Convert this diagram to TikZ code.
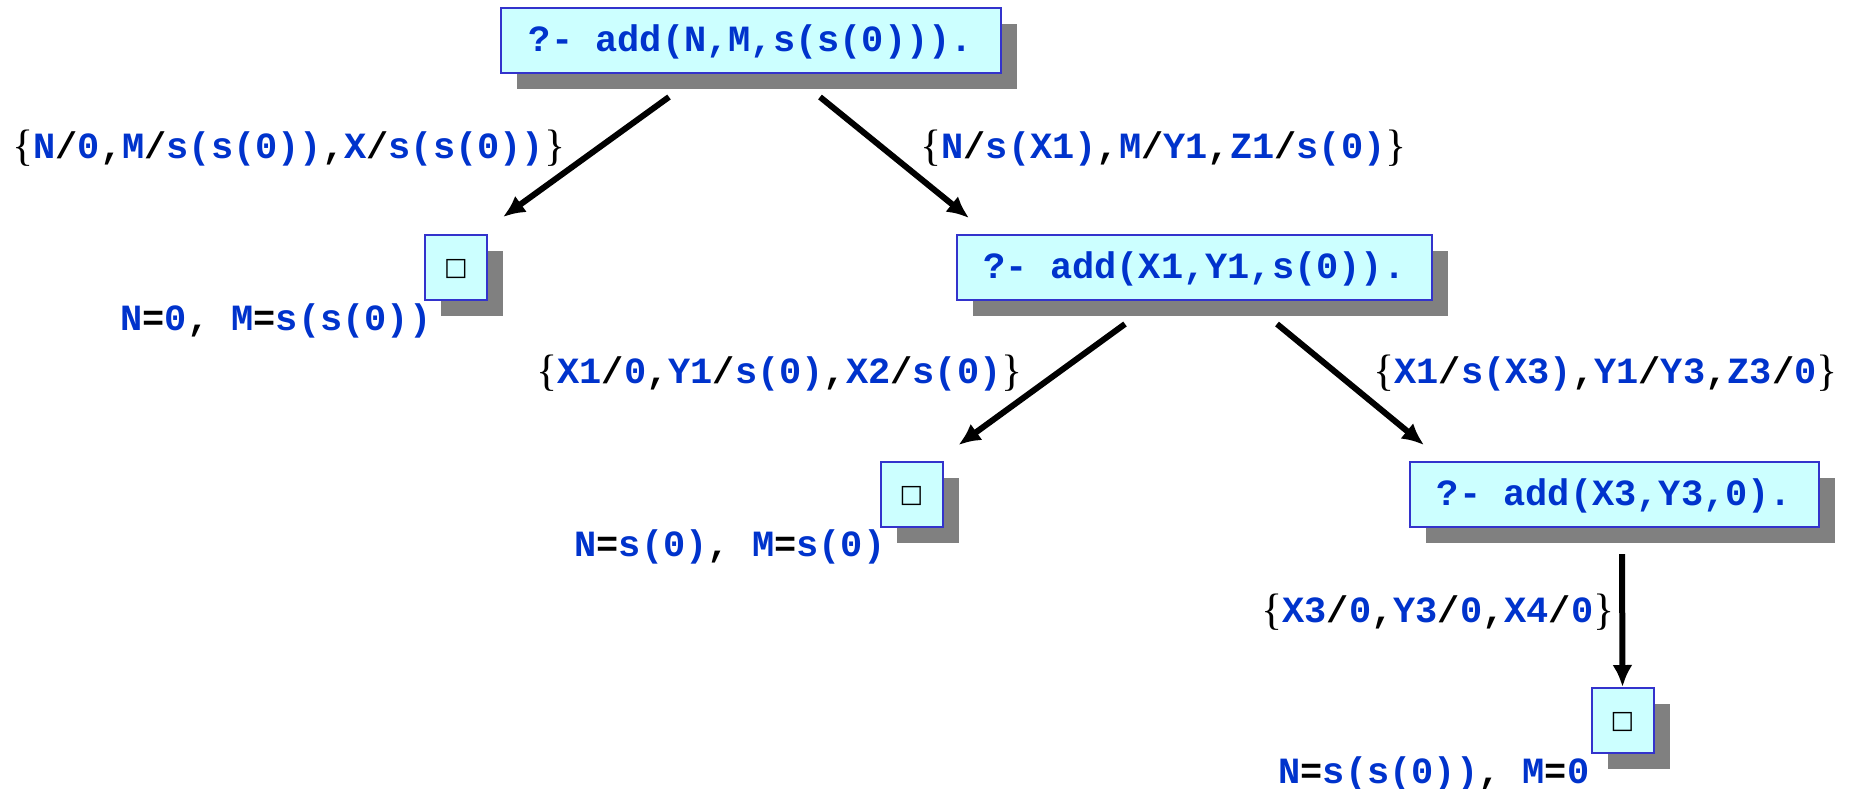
\documentclass[tikz,border=0pt]{standalone}
\usepackage{fontspec}
\setmonofont{Liberation Mono}
\newfontfamily\bracefont{Liberation Serif}
\newfontfamily\symfont{DejaVu Sans}
\usetikzlibrary{calc,shadows,arrows.meta}
\definecolor{goalblue}{RGB}{0,51,204}
\definecolor{goalfill}{RGB}{204,255,255}
\definecolor{goalline}{RGB}{51,51,204}
\definecolor{shadowgray}{RGB}{128,128,128}
\newcommand{\pv}[1]{\textcolor{goalblue}{#1}}
\newcommand{\lb}{\raisebox{-1pt}{\bracefont\mdseries\fontsize{22pt}{22pt}\selectfont\{}}
\newcommand{\rb}{\raisebox{-1pt}{\bracefont\mdseries\fontsize{22pt}{22pt}\selectfont\}}}
\newcommand{\emptygoal}{{\symfont\mdseries\fontsize{12.5pt}{12.5pt}\selectfont\symbol{"25A1}}}
\tikzset{
  goal/.style={draw=goalline, line width=1pt, fill=goalfill, minimum height=32.5pt,
    inner xsep=11pt, inner ysep=0pt, text height=10.6pt, text depth=0pt, text=goalblue,
    font=\ttfamily\bfseries\fontsize{18.5pt}{22pt}\selectfont,
    drop shadow={shadow xshift=8pt, shadow yshift=-8pt, fill=shadowgray, opacity=1}},
  done/.style={goal, minimum width=31pt, inner xsep=0pt, text=black, text height=8pt},
  subst/.style={anchor=base west, inner sep=0pt, font=\ttfamily\bfseries\fontsize{18.5pt}{22pt}\selectfont},
  resolve/.style={-{Latex[length=11pt,width=10pt]}, line width=3pt}
}

\begin{document}
\begin{tikzpicture}[x=0.5pt,y=-0.5pt]
			%%%%% START %%%%%
			\useasboundingbox (0,0) rectangle (1850,788);
			
			% goals
			\node[goal, minimum width=250pt] (q0) at (751,40.5) {?- add(N,M,s(s(0))).\hspace{5pt}};
			\node[goal, minimum width=237.5pt] (q1) at (1194.5,267.5) {?- add(X1,Y1,s(0)).\hspace{5pt}};
			\node[goal, minimum width=204.5pt] (q2) at (1614.5,494.5) {?- add(X3,Y3,0).\hspace{5pt}};
			
			% empty goals
			\node[done] (e1) at (456,267.5) {\emptygoal};
			\node[done] (e2) at (911.5,494.5) {\emptygoal};
			\node[done] (e3) at (1622.5,720.5) {\emptygoal};
			
			% resolution steps
			\draw[resolve] ($(q0.south)+(-82,23)$) -- ($(e1.north east)+(15,-17)$);
			\draw[resolve] ($(q0.south)+(69,23)$) -- ($(q1.north west)+(13,-16)$);
			\draw[resolve] ($(q1.south)+(-69.5,23)$) -- ($(e2.north east)+(15,-16)$);
			\draw[resolve] ($(q1.south)+(82.5,23)$) -- ($(q2.north west)+(15,-16)$);
			\draw[resolve] ($(q2.south)+(7.5,26)$) -- (e3.north);
			
			% substitutions
			\node[subst] (s1) at (12,158) {\lb\pv{N}/\pv{0},\pv{M}/\pv{s(s(0))},\pv{X}/\pv{s(s(0))}\rb};
			\node[subst] (s2) at (920,158) {\lb\pv{N}/\pv{s(X1)},\pv{M}/\pv{Y1},\pv{Z1}/\pv{s(0)}\rb};
			\node[subst] (s3) at (536,383) {\lb\pv{X1}/\pv{0},\pv{Y1}/\pv{s(0)},\pv{X2}/\pv{s(0)}\rb};
			\node[subst] (s4) at (1373,383) {\lb\pv{X1}/\pv{s(X3)},\pv{Y1}/\pv{Y3},\pv{Z3}/\pv{0}\rb};
			\node[subst] (s5) at (1261,622) {\lb\pv{X3}/\pv{0},\pv{Y3}/\pv{0},\pv{X4}/\pv{0}\rb};
			
			% answers
			\node[subst] (a1) at (120,330) {\pv{N}=\pv{0}, \pv{M}=\pv{s(s(0))}};
			\node[subst] (a2) at (574,556) {\pv{N}=\pv{s(0)}, \pv{M}=\pv{s(0)}};
			\node[subst] (a3) at (1278,783) {\pv{N}=\pv{s(s(0))}, \pv{M}=\pv{0}};
			%%%%% END %%%%%
\end{tikzpicture}
\end{document}
